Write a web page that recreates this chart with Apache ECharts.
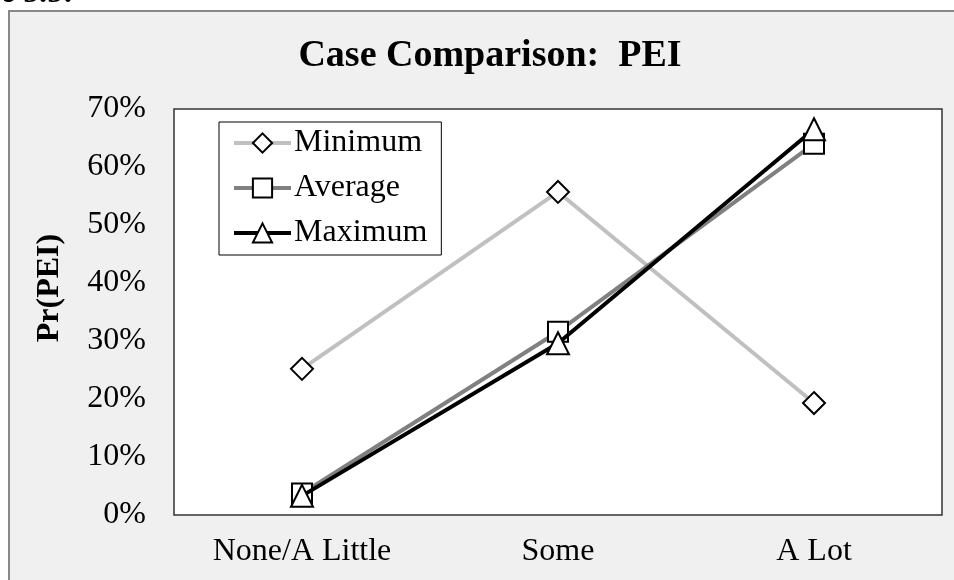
<!DOCTYPE html>
<html>
<head>
<meta charset="utf-8">
<script src="https://cdn.jsdelivr.net/npm/echarts@6/dist/echarts.min.js"></script>
<style>html,body{margin:0;padding:0;background:#fff;}#c{width:954px;height:580px;}</style>
</head>
<body>
<div id="c"></div>
<script>
const categories = ['None/A Little', 'Some', 'A Lot'];
const minimumValues = [0.252, 0.557, 0.193];
const averageValues = [0.037, 0.316, 0.640];
const maximumValues = [0.033, 0.296, 0.665];
const yTicks = [0, 0.1, 0.2, 0.3, 0.4, 0.5, 0.6, 0.7];

const FONT = '"Liberation Serif", "Times New Roman", serif';
const chart = echarts.init(document.getElementById('c'), null, {renderer: 'canvas'});

function series(name, data, color, symbol) {
  return {
    name: name, type: 'line', data: data,
    symbol: symbol, symbolSize: symbol === 'rect' ? 20 : 22,
    showAllSymbol: true,
    lineStyle: {color: color, width: 4},
    itemStyle: {color: '#fff', borderColor: '#000', borderWidth: 2},
    emphasis: {disabled: true},
    z: name === 'Maximum' ? 4 : (name === 'Average' ? 3 : 2)
  };
}

chart.setOption({
  backgroundColor: '#fff',
  animation: false,
  graphic: [
    {type: 'rect', shape: {x: 9, y: 11, width: 960, height: 580},
     style: {fill: '#f0f0f0', stroke: '#888', lineWidth: 2}, z: -10},
    {type: 'text', x: 2, y: 10, z: -20,
     style: {text: 'e 5.5:', font: 'bold italic 32px ' + FONT, fill: '#000', verticalAlign: 'bottom'}},
    {type: 'text', x: 490, y: 56,
     style: {text: 'Case Comparison:  PEI', font: 'bold 38px ' + FONT, fill: '#000', align: 'center', verticalAlign: 'middle'}},
    {type: 'text', x: 50, y: 288, rotation: Math.PI / 2,
     style: {text: 'Pr(PEI)', font: 'bold 32px ' + FONT, fill: '#000', align: 'center', verticalAlign: 'middle'}}
  ],
  legend: {
    orient: 'vertical', left: 219, top: 122,
    backgroundColor: '#fff', borderColor: '#000', borderWidth: 1,
    padding: [5, 14, 6, 13],
    itemWidth: 57, itemHeight: 24, itemGap: 13,
    lineStyle: {width: 4},
    textStyle: {fontFamily: FONT, fontSize: 32, color: '#000', padding: [0, 0, 0, -2]},
    data: ['Minimum', 'Average', 'Maximum']
  },
  grid: {
    left: 174, top: 109, right: 12, bottom: 65,
    show: true, backgroundColor: '#fff', borderColor: '#333', borderWidth: 1.5
  },
  xAxis: {
    type: 'category', data: categories, boundaryGap: true,
    axisLine: {show: false}, axisTick: {show: false},
    axisLabel: {fontFamily: FONT, fontSize: 32, color: '#000', margin: 21}
  },
  yAxis: {
    type: 'value', min: yTicks[0], max: yTicks[yTicks.length - 1], interval: 0.1,
    axisLine: {show: false}, axisTick: {show: false}, splitLine: {show: false},
    axisLabel: {fontFamily: FONT, fontSize: 32, color: '#000', margin: 28,
      formatter: v => Math.round(v * 100) + '%'}
  },
  series: [
    series('Minimum', minimumValues, '#c0c0c0', 'diamond'),
    series('Average', averageValues, '#808080', 'rect'),
    series('Maximum', maximumValues, '#000000', 'triangle')
  ]
});
</script>
</body>
</html>
